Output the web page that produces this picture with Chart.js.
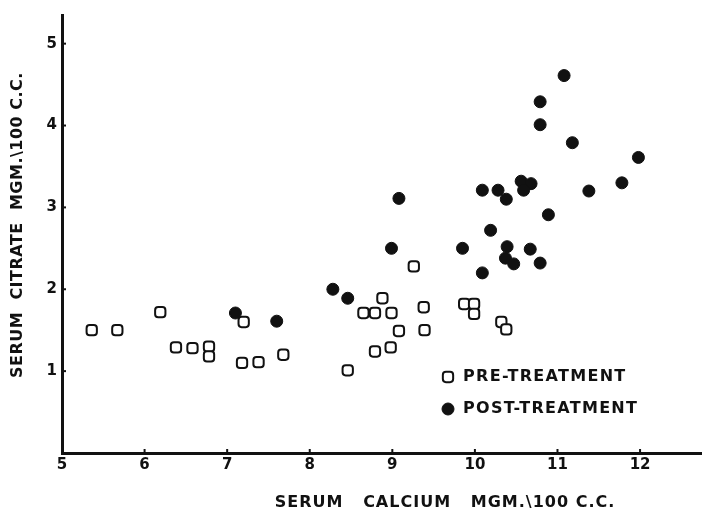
<!DOCTYPE html>
<html>
<head>
<meta charset="utf-8">
<script src="https://cdn.jsdelivr.net/npm/chart.js@4/dist/chart.umd.min.js"></script>
<style>
  html, body { margin: 0; padding: 0; background: #fff; }
  #wrap { width: 702px; height: 516px; }
</style>
</head>
<body>
<div id="wrap"><canvas id="grafico"></canvas></div>
<script>
// valores
const preCalcio  = [5.36, 5.67, 6.19, 6.38, 6.58, 6.78, 6.78, 7.2, 7.18, 7.38, 7.68, 8.46, 8.65, 8.79, 8.88, 8.99, 9.08, 8.79, 8.98, 9.26, 9.38, 9.39, 9.87, 9.99, 9.99, 10.32, 10.38];
const preCitrato = [1.50, 1.50, 1.72, 1.29, 1.28, 1.30, 1.18, 1.6, 1.10, 1.11, 1.20, 1.01, 1.71, 1.71, 1.89, 1.71, 1.49, 1.24, 1.29, 2.28, 1.78, 1.50, 1.82, 1.82, 1.70, 1.60, 1.51];

const posCalcio  = [11.08, 10.79, 10.79, 11.18, 11.98, 11.78, 11.38, 10.56, 10.68, 10.59, 10.09, 10.28, 10.38, 9.08, 10.89, 10.19, 8.99, 9.85, 10.39, 10.37, 10.47, 10.67, 10.79, 10.09, 8.28, 8.46, 7.10, 7.60];
const posCitrato = [4.61, 4.29, 4.01, 3.79, 3.61, 3.30, 3.20, 3.32, 3.29, 3.21, 3.21, 3.21, 3.10, 3.11, 2.91, 2.72, 2.50, 2.50, 2.52, 2.38, 2.31, 2.49, 2.32, 2.20, 2.00, 1.89, 1.71, 1.61];

const legendas = ["PRE-TREATMENT", "POST-TREATMENT"];
const tituloX = "SERUM   CALCIUM   MGM.\\100 C.C.";
const tituloY = "SERUM  CITRATE  MGM.\\100 C.C.";

const tinta = "#111";
const fonte = "'DejaVu Sans', sans-serif";

function juntar(xs, ys) {
  return xs.map((x, i) => ({ x: x, y: ys[i] }));
}

// titulos, legenda e tracinhos dos eixos
const extras = {
  id: "extras",
  afterDraw(chart) {
    const ctx = chart.ctx;
    const xs = chart.scales.x, ys = chart.scales.y;
    ctx.save();
    ctx.fillStyle = tinta;
    ctx.strokeStyle = tinta;
    ctx.textBaseline = "middle";

    // tracinhos para dentro
    ctx.lineWidth = 2;
    xs.ticks.forEach(t => {
      const px = xs.getPixelForValue(t.value);
      ctx.beginPath(); ctx.moveTo(px, xs.top); ctx.lineTo(px, xs.top - 4); ctx.stroke();
    });
    ys.ticks.forEach(t => {
      if (t.value === 0) return;
      const py = ys.getPixelForValue(t.value);
      ctx.beginPath(); ctx.moveTo(ys.right, py); ctx.lineTo(ys.right + 4, py); ctx.stroke();
    });

    // titulo eixo x
    ctx.font = "bold 16px " + fonte;
    ctx.letterSpacing = "1px";
    ctx.textAlign = "center";
    ctx.fillText(tituloX, 445, 503);

    // titulo eixo y
    ctx.save();
    ctx.letterSpacing = "0.5px";
    ctx.translate(18, 225);
    ctx.rotate(-Math.PI / 2);
    ctx.fillText(tituloY, 0, 0);
    ctx.restore();

    // legenda
    ctx.font = "bold 16px " + fonte;
    ctx.letterSpacing = "1.3px";
    ctx.textAlign = "left";
    chart.data.datasets.forEach((ds, i) => {
      const ly = 377 + i * 32;
      ctx.fillStyle = ds.backgroundColor;
      ctx.strokeStyle = ds.borderColor;
      ctx.lineWidth = ds.borderWidth;
      Chart.helpers.drawPoint(ctx, {
        pointStyle: ds.pointStyle,
        radius: ds.pointRadius,
        borderWidth: ds.borderWidth
      }, 448, ly);
      ctx.fillStyle = tinta;
      ctx.fillText(legendas[i], 463, ly);
    });
    ctx.restore();
  }
};

const ctx = document.getElementById("grafico").getContext("2d");

new Chart(ctx, {
  type: "scatter",
  data: {
    datasets: [
      {
        label: legendas[0],
        data: juntar(preCalcio, preCitrato),
        pointStyle: "rectRounded",
        pointRadius: 6,
        pointHoverRadius: 6,
        backgroundColor: "#fff",
        borderColor: tinta,
        borderWidth: 2
      },
      {
        label: legendas[1],
        data: juntar(posCalcio, posCitrato),
        pointStyle: "circle",
        pointRadius: 6,
        pointHoverRadius: 6,
        backgroundColor: tinta,
        borderColor: tinta,
        borderWidth: 1
      }
    ]
  },
  options: {
    responsive: true,
    maintainAspectRatio: false,
    animation: false,
    layout: { autoPadding: false, padding: { top: 15, right: 0, left: 0, bottom: 0 } },
    plugins: {
      legend: { display: false },
      tooltip: { enabled: false }
    },
    scales: {
      x: {
        type: "linear",
        min: 5,
        max: 12.75,
        afterFit: s => { s.height = 63; s.paddingRight = 0; s.paddingLeft = 0; },
        grid: { display: false, drawTicks: false },
        border: { display: true, color: tinta, width: 3 },
        ticks: {
          stepSize: 1,
          includeBounds: false,
          color: tinta,
          padding: 3,
          font: { family: fonte, size: 15, weight: "bold" }
        }
      },
      y: {
        type: "linear",
        min: 0,
        max: 5.35,
        afterFit: s => { s.width = 62; s.paddingTop = 0; s.paddingBottom = 0; },
        grid: { display: false, drawTicks: false },
        border: { display: true, color: tinta, width: 3 },
        ticks: {
          stepSize: 1,
          includeBounds: false,
          color: tinta,
          padding: 5,
          font: { family: fonte, size: 15, weight: "bold" },
          callback: v => (v === 0 ? "" : v)
        }
      }
    }
  },
  plugins: [extras]
});
</script>
</body>
</html>
